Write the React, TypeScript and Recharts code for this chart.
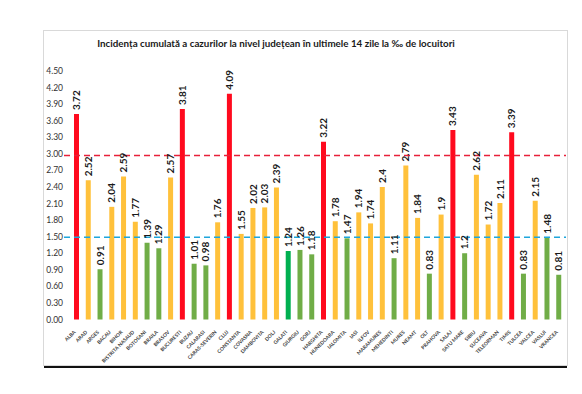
import React from 'react';
import { BarChart, Bar, XAxis, YAxis, Cell, LabelList, ReferenceLine } from 'recharts';

const counties = [
  'ALBA', 'ARAD', 'ARGES', 'BACAU', 'BIHOR', 'BISTRITA NASAUD', 'BOTOSANI', 'BRAILA', 'BRASOV', 'BUCURESTI',
  'BUZAU', 'CALARASI', 'CARAS-SEVERIN', 'CLUJ', 'CONSTANTA', 'COVASNA', 'DAMBOVITA', 'DOLJ', 'GALATI', 'GIURGIU',
  'GORJ', 'HARGHITA', 'HUNEDOARA', 'IALOMITA', 'IASI', 'ILFOV', 'MARAMURES', 'MEHEDINTI', 'MURES', 'NEAMT',
  'OLT', 'PRAHOVA', 'SALAJ', 'SATU MARE', 'SIBIU', 'SUCEAVA', 'TELEORMAN', 'TIMIS', 'TULCEA', 'VALCEA',
  'VASLUI', 'VRANCEA',
];

const incidence = [
  3.72, 2.52, 0.91, 2.04, 2.59, 1.77, 1.39, 1.29, 2.57, 3.81,
  1.01, 0.98, 1.76, 4.09, 1.55, 2.02, 2.03, 2.39, 1.24, 1.26,
  1.18, 3.22, 1.78, 1.47, 1.94, 1.74, 2.4, 1.11, 2.79, 1.84,
  0.83, 1.9, 3.43, 1.2, 2.62, 1.72, 2.11, 3.39, 0.83, 2.15,
  1.48, 0.81,
];

const yTicks = [0, 0.3, 0.6, 0.9, 1.2, 1.5, 1.8, 2.1, 2.4, 2.7, 3.0, 3.3, 3.6, 3.9, 4.2, 4.5];

const redLimit = 2.97;
const blueLimit = 1.49;

const data = counties.map((name, i) => ({ name, value: incidence[i] }));

const barColor = (name: string, v: number) => {
  if (name === 'GALATI') return '#00B050';
  if (v >= 3) return '#FF0A1E';
  if (v >= 1.5) return '#FFC13B';
  return '#70AD47';
};

const FONT = 'Lato, "Noto Sans", sans-serif';

const XTick = (props: any) => {
  const { x, y, payload } = props;
  return (
    <text
      transform={`translate(${x - 1},${y + 5}) rotate(-45)`}
      textAnchor="end"
      fontSize={5}
      fontWeight="bold"
      fill="#404040"
      fontFamily={FONT}
    >
      {payload.value}
    </text>
  );
};

const ValueLabel = (props: any) => {
  const { x, y, width, value } = props;
  const cx = x + width / 2 + 3.6;
  return (
    <text
      transform={`translate(${cx},${y - 4}) rotate(-90)`}
      textAnchor="start"
      fontSize={10}
      fontWeight="bold"
      fill="#1a1a1a"
      fontFamily={FONT}
    >
      {value}
    </text>
  );
};

export default function App() {
  return (
    <div style={{ position: 'absolute', left: 0, top: 0, width: 582, height: 394, background: '#fff' }}>
      <div
        style={{
          position: 'absolute', left: 43, top: 30, width: 523, height: 334,
          border: '1px solid #d9d9d9', boxSizing: 'content-box',
        }}
      />
      <div style={{ position: 'absolute', left: 44, top: 366, width: 523, height: 2, background: '#111' }} />
      <div
        style={{
          position: 'absolute', left: 76, top: 37, width: 400, textAlign: 'center',
          fontFamily: FONT, fontWeight: 'bold', fontSize: 9.8, color: '#1a1a1a',
        }}
      >
        Incidența cumulată a cazurilor la nivel județean în ultimele 14 zile la ‰ de locuitori
      </div>
      <div style={{ position: 'absolute', left: 0, top: 0 }}>
        <BarChart
          width={582}
          height={394}
          data={data}
          margin={{ top: 71, right: 16, bottom: 14.5, left: 0 }}
        >
          <XAxis
            dataKey="name"
            interval={0}
            height={60}
            tickLine={false}
            axisLine={false}
            padding={{ left: 7, right: 1 }}
            tick={<XTick />}
          />
          <YAxis
            width={64}
            domain={[0, 4.5]}
            ticks={yTicks}
            tickFormatter={(v: number) => v.toFixed(2)}
            axisLine={false}
            tickLine={false}
            tickSize={0}
            tickMargin={1}
            tick={{ fontSize: 8.5, fill: '#333', fontFamily: FONT }}
          />
          <Bar dataKey="value" barSize={5} isAnimationActive={false}>
            {data.map((d) => (
              <Cell key={d.name} fill={barColor(d.name, d.value)} />
            ))}
            <LabelList dataKey="value" content={<ValueLabel />} />
          </Bar>
          <ReferenceLine y={redLimit} stroke="#E8203A" strokeWidth={1.5} strokeDasharray="6 4" ifOverflow="extendDomain" />
          <ReferenceLine y={blueLimit} stroke="#1EA6DC" strokeWidth={1.5} strokeDasharray="6 4" />
        </BarChart>
      </div>
    </div>
  );
}
